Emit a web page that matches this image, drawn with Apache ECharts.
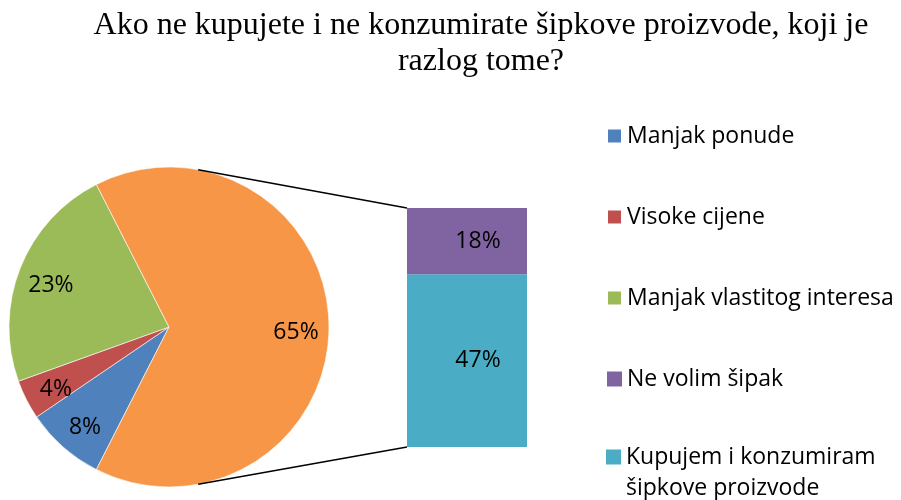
<!DOCTYPE html>
<html>
<head>
<meta charset="utf-8">
<script src="https://cdn.jsdelivr.net/npm/echarts@6/dist/echarts.min.js"></script>
<style>html,body{margin:0;padding:0;background:#fff}#c{width:901px;height:500px}</style>
</head>
<body>
<div id="c"></div>
<script>
// ---- data ----
const titleText = 'Ako ne kupujete i ne konzumirate šipkove proizvode, koji je\nrazlog tome?';
const pieCategories = ['Manjak ponude', 'Visoke cijene', 'Manjak vlastitog interesa', 'Ostalo'];
const pieValues = [8, 4, 23, 65];
const barCategories = ['Kupujem i konzumiram šipkove proizvode', 'Ne volim šipak'];
const barValues = [47, 18];

// ---- style / layout ----
const pieColors = ['#4F81BD', '#C0504D', '#9BBB59', '#F79646'];
const barColors = ['#4BACC6', '#8064A2'];
const PIE_CX = 169, PIE_CY = 327, PIE_R = 160;
const GRID = {left: 407, top: 208, width: 120, height: 239};
const CONNECT_ANGLE = 79.5; // degrees, where connector lines leave the pie
const FONT = 'Open Sans';

const chart = echarts.init(document.getElementById('c'), null, {renderer: 'canvas'});
const barTotal = barValues.reduce((a, b) => a + b, 0);

const pieData = pieCategories.map((n, i) => ({name: n, value: pieValues[i], itemStyle: {color: pieColors[i]}}));

const option = {
  backgroundColor: '#fff',
  animation: false,
  title: {
    text: titleText,
    left: 481, top: 8, padding: 0,
    textAlign: 'center',
    textStyle: {fontFamily: 'Liberation Serif', fontSize: 32, fontWeight: 'normal', color: '#000', lineHeight: 36}
  },
  legend: [
    {
      data: [pieCategories[0], pieCategories[1], pieCategories[2], barCategories[1]],
      orient: 'vertical', left: 606, top: 120.5, padding: 0,
      itemWidth: 15, itemHeight: 15, itemGap: 50, icon: 'rect',
      selectedMode: false,
      textStyle: {fontFamily: FONT, fontSize: 23, color: '#000', lineHeight: 31}
    },
    {
      data: [barCategories[0]],
      orient: 'vertical', left: 606, top: 410.5, padding: 0,
      itemWidth: 15, itemHeight: 15, icon: 'rect',
      selectedMode: false,
      formatter: n => ' \n' + n.replace(' šipkove', '\nšipkove'),
      textStyle: {fontFamily: FONT, fontSize: 23, color: '#000', lineHeight: 31}
    }
  ],
  grid: {left: GRID.left, top: GRID.top, width: GRID.width, height: GRID.height},
  xAxis: {type: 'category', data: ['Ostalo'], show: false},
  yAxis: {type: 'value', min: 0, max: barTotal, show: false},
  series: [
    {
      type: 'pie', name: 'pie',
      center: [PIE_CX, PIE_CY], radius: [0, PIE_R],
      startAngle: 243, clockwise: true,
      data: pieData,
      label: {show: false}, labelLine: {show: false},
      itemStyle: {borderColor: '#fff', borderWidth: 0.6},
      silent: true
    },
    {
      type: 'pie', name: 'pieLabels',
      center: [PIE_CX, PIE_CY + 5], radius: [PIE_R * 0.55, PIE_R],
      startAngle: 243, clockwise: true,
      data: pieCategories.map((n, i) => ({name: n, value: pieValues[i]})),
      itemStyle: {color: 'rgba(0,0,0,0)'},
      label: {show: true, position: 'inside', formatter: '{c}%', fontFamily: FONT, fontSize: 23, color: '#000'},
      labelLine: {show: false},
      silent: true, legendHoverLink: false
    },
    {
      type: 'bar', name: barCategories[0], stack: 's', barWidth: '100%',
      data: [barValues[0]], itemStyle: {color: barColors[0]},
      label: {show: true, position: 'inside', formatter: '{c}%', fontFamily: FONT, fontSize: 23, color: '#000', offset: [11, 0]},
      silent: true
    },
    {
      type: 'bar', name: barCategories[1], stack: 's', barWidth: '100%',
      data: [barValues[1]], itemStyle: {color: barColors[1]},
      label: {show: true, position: 'inside', formatter: '{c}%', fontFamily: FONT, fontSize: 23, color: '#000', offset: [11, 0]},
      silent: true
    }
  ]
};
chart.setOption(option);

// connector lines between pie and bar, computed from layout
const a = CONNECT_ANGLE * Math.PI / 180;
const px = PIE_CX + PIE_R * Math.cos(a);
const pyTop = PIE_CY - PIE_R * Math.sin(a);
const pyBot = PIE_CY + PIE_R * Math.sin(a);
const yTop = chart.convertToPixel({yAxisIndex: 0}, barTotal);
const yBot = chart.convertToPixel({yAxisIndex: 0}, 0);
chart.setOption({
  graphic: [
    {type: 'line', shape: {x1: px, y1: pyTop, x2: GRID.left, y2: yTop}, style: {stroke: '#000', lineWidth: 1.5}, z: 10},
    {type: 'line', shape: {x1: px, y1: pyBot, x2: GRID.left, y2: yBot}, style: {stroke: '#000', lineWidth: 1.5}, z: 10}
  ]
});
</script>
</body>
</html>
